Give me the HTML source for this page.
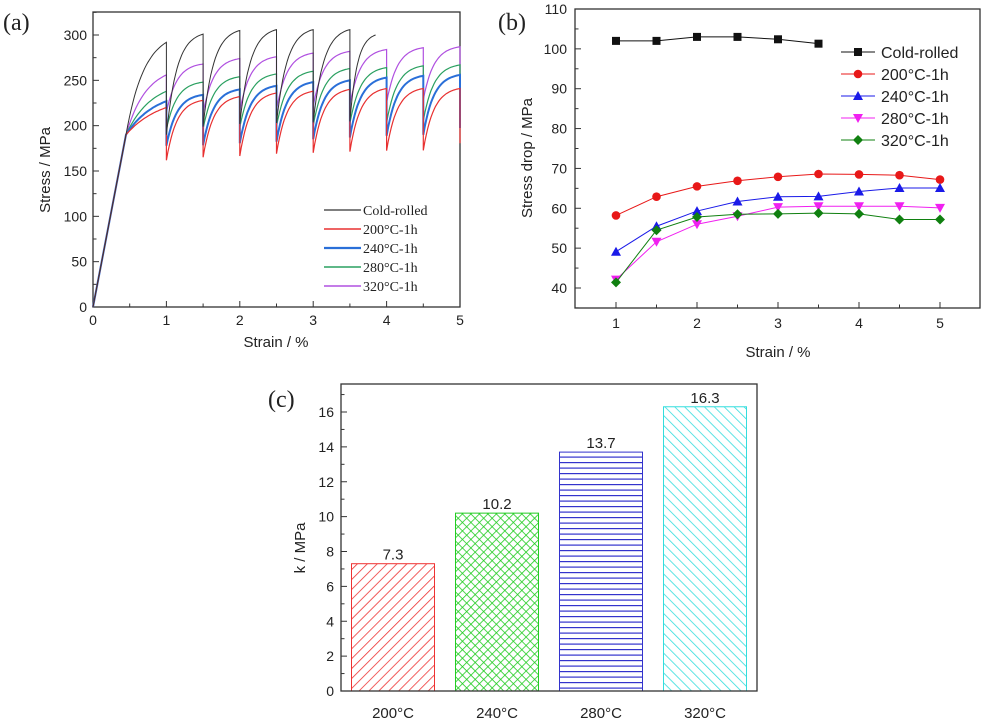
<!DOCTYPE html>
<html><head><meta charset="utf-8"><style>
body{margin:0;background:#fff}
svg{display:block}
text{font-family:"Liberation Sans",Arial,sans-serif;fill:#222}
.serif{font-family:"Liberation Serif",serif}
</style></head><body>
<svg id="fig" width="988" height="722" viewBox="0 0 988 722" xmlns="http://www.w3.org/2000/svg">
<defs>
<pattern id="pRed" patternUnits="userSpaceOnUse" width="7" height="7" patternTransform="rotate(45)"><line x1="0" y1="0" x2="0" y2="7" stroke="#e33" stroke-width="1.6"/></pattern>
<pattern id="pGreen" patternUnits="userSpaceOnUse" width="6" height="6" patternTransform="rotate(45)"><line x1="0" y1="0" x2="0" y2="6" stroke="#2c2" stroke-width="1.6"/><line x1="0" y1="0" x2="6" y2="0" stroke="#2c2" stroke-width="1.6"/></pattern>
<pattern id="pBlue" patternUnits="userSpaceOnUse" width="8" height="5.5"><line x1="0" y1="0.5" x2="8" y2="0.5" stroke="#33c" stroke-width="1.4"/></pattern>
<pattern id="pCyan" patternUnits="userSpaceOnUse" width="7" height="7" patternTransform="rotate(-45)"><line x1="0" y1="0" x2="0" y2="7" stroke="#3dd" stroke-width="1.6"/></pattern>
</defs>
<g id="ga"></g><g id="gb"></g><g id="gc"></g>
</svg>
<script>
// ---------- data ----------
const seriesA = ["Cold-rolled","200°C-1h","240°C-1h","280°C-1h","320°C-1h"];
const peakCold = [292,301,305,306,306,306,300];
const peak200 = [220,228,232,236,238,240,241,241,241];
const peak240 = [227,234,240,244,248,250,253,255,256];
const peak280 = [238,248,254,257,260,263,264,266,267];
const peak320 = [256,268,274,276,280,282,284,286,287];
const strainB = [1,1.5,2,2.5,3,3.5,4,4.5,5];
const dropCold = [102,102,103,103,102.4,101.3];
const drop200 = [58.2,62.9,65.5,66.9,67.9,68.6,68.5,68.3,67.2];
const drop240 = [49.1,55.5,59.3,61.7,62.9,63.0,64.2,65.1,65.1];
const drop280 = [42.1,51.6,56,58,60.3,60.5,60.5,60.5,60.1];
const drop320 = [41.4,54.5,57.8,58.5,58.6,58.8,58.6,57.2,57.2];
const catsC = ["200°C","240°C","280°C","320°C"];
const valsC = [7.3,10.2,13.7,16.3];
const labelsC = ["7.3","10.2","13.7","16.3"];
const ticksA_x=[0,1,2,3,4,5], ticksA_y=[0,50,100,150,200,250,300];
const ticksB_x=[1,2,3,4,5], ticksB_y=[40,50,60,70,80,90,100,110];
const ticksC_y=[0,2,4,6,8,10,12,14,16];

const NS="http://www.w3.org/2000/svg";
function mk(p,tag,attrs,txt){const e=document.createElementNS(NS,tag);for(const k in attrs)e.setAttribute(k,attrs[k]);if(txt!==undefined)e.textContent=txt;p.appendChild(e);return e;}

// ---------- panel a ----------
const ga=document.getElementById('ga');
const A={l:93,r:460,t:12,b:307};
const ax=v=>A.l+v/5*(A.r-A.l), ay=v=>A.b-v/300*(A.b-35);
let t=mk(ga,'text',{x:3,y:30,'font-size':24,class:'serif'},'(a)');

let r=mk(ga,'rect',{x:A.l,y:A.t,width:A.r-A.l,height:A.b-A.t,fill:'none',stroke:'#333','stroke-width':1.3});

for(let v=0;v<=5;v+=0.5){const x=ax(v);mk(ga,'line',{x1:x,y1:A.b,x2:x,y2:A.b-(v%1===0?6:3.5),stroke:'#333'});}
ticksA_x.forEach(v=>{const e=mk(ga,'text',{x:ax(v),y:A.b+18,'font-size':14,'text-anchor':'middle'},v);});
for(let v=0;v<=325;v+=25){const y=ay(v);mk(ga,'line',{x1:A.l,y1:y,x2:A.l+(v%50===0?6:3.5),y2:y,stroke:'#333'});}
ticksA_y.forEach(v=>{const e=mk(ga,'text',{x:A.l-6,y:ay(v)+5,'font-size':14,'text-anchor':'end'},v);});
t=mk(ga,'text',{x:276,y:347,'font-size':15,'text-anchor':'middle'},'Strain / %');
t=mk(ga,'text',{x:0,y:0,'font-size':15,'text-anchor':'middle',transform:'translate(50,170) rotate(-90)'},'Stress / MPa');

const colsA=['#333','#e83030','#2a6fd8','#2aa060','#b050e0'];
const widthsA=[1,1.2,2,1.2,1.2];
const peaksA=[peakCold,peak200,peak240,peak280,peak320];
const dropsA=[dropCold,drop200,drop240,drop280,drop320];
const firstK=[2.2,1.2,1.4,1.6,2];
function rise(x0,x1,y0,y1,k,pts){for(let i=0;i<=24;i++){const s=i/24;const f=(1-Math.exp(-k*s))/(1-Math.exp(-k));pts.push([ax(x0+(x1-x0)*s),ay(y0+(y1-y0)*f)]);}}
[4,3,2,1,0].forEach(si=>{
  const pk=peaksA[si], dr=dropsA[si];const pts=[[ax(0),ay(0)],[ax(0.45),ay(190)]];
  rise(0.45,1,190,pk[0],firstK[si],pts);
  for(let c=1;c<pk.length;c++){
    const xs=0.5+0.5*c; const mn=pk[c-1]-dr[c-1];
    pts.push([ax(xs),ay(mn)]);
    const xe=(si===0&&c===pk.length-1)?3.85:xs+0.5;
    rise(xs,xe,mn,pk[c],3.5,pts);
  }
  const last=pk.length-1;
  if(si>0 && dr[last]!==undefined) pts.push([ax(5),ay(pk[last]-dr[last]*0.9)]);
  const p=mk(ga,'path',{d:'M'+pts.map(q=>q[0].toFixed(1)+','+q[1].toFixed(1)).join('L'),fill:'none',stroke:colsA[si],'stroke-width':widthsA[si]});
  
});
seriesA.forEach((s,i)=>{const y=210+i*19;
  const l=mk(ga,'line',{x1:324,y1:y,x2:361,y2:y,stroke:colsA[i],'stroke-width':widthsA[i]+0.3});
  const e=mk(ga,'text',{x:363,y:y+5,'font-size':14,class:'serif'},s);});

// ---------- panel b ----------
const gb=document.getElementById('gb');
const B={l:575,r:980,t:9,b:308};
const bx=v=>616+(v-1)/4*(940-616), by=v=>288-(v-40)/70*(288-9);
t=mk(gb,'text',{x:498,y:30,'font-size':24,class:'serif'},'(b)');
r=mk(gb,'rect',{x:B.l,y:B.t,width:B.r-B.l,height:B.b-B.t,fill:'none',stroke:'#333','stroke-width':1.3});
for(let v=1;v<=5;v+=0.5){const x=bx(v);mk(gb,'line',{x1:x,y1:B.b,x2:x,y2:B.b-(v%1===0?6:3.5),stroke:'#333'});}
ticksB_x.forEach(v=>{const e=mk(gb,'text',{x:bx(v),y:B.b+20,'font-size':14,'text-anchor':'middle'},v);});
for(let v=35;v<=110;v+=5){const y=by(v);if(y>B.b)continue;mk(gb,'line',{x1:B.l,y1:y,x2:B.l+(v%10===0?6:3.5),y2:y,stroke:'#333'});}
ticksB_y.forEach(v=>{const e=mk(gb,'text',{x:B.l-8,y:by(v)+5,'font-size':14,'text-anchor':'end'},v);});
t=mk(gb,'text',{x:778,y:357,'font-size':15,'text-anchor':'middle'},'Strain / %');
t=mk(gb,'text',{x:0,y:0,'font-size':15,'text-anchor':'middle',transform:'translate(532,158) rotate(-90)'},'Stress drop / MPa');
const colsB=['#111','#e81818','#1a1ae8','#f020f0','#108010'];
const dropsB=[dropCold,drop200,drop240,drop280,drop320];
function marker(g,kind,x,y,c){
  if(kind===0) return mk(g,'rect',{x:x-4,y:y-4,width:8,height:8,fill:c});
  if(kind===1) return mk(g,'circle',{cx:x,cy:y,r:4.3,fill:c});
  if(kind===2) return mk(g,'path',{d:`M${x},${y-5}L${x+5},${y+4}L${x-5},${y+4}Z`,fill:c});
  if(kind===3) return mk(g,'path',{d:`M${x},${y+5}L${x+5},${y-4}L${x-5},${y-4}Z`,fill:c});
  return mk(g,'path',{d:`M${x},${y-5}L${x+5},${y}L${x},${y+5}L${x-5},${y}Z`,fill:c});
}
dropsB.forEach((arr,si)=>{
  const pts=arr.map((v,i)=>[bx(strainB[i]),by(v)]);
  const p=mk(gb,'polyline',{points:pts.map(q=>q.join(',')).join(' '),fill:'none',stroke:colsB[si],'stroke-width':1});
  
  pts.forEach(q=>{const m=marker(gb,si,q[0],q[1],colsB[si]);});
});
seriesA.forEach((s,i)=>{const y=52+i*22;
  const l=mk(gb,'line',{x1:841,y1:y,x2:875,y2:y,stroke:colsB[i]});
  const m=marker(gb,i,858,y,colsB[i]);
  const e=mk(gb,'text',{x:881,y:y+6,'font-size':16},s);});

// ---------- panel c ----------
const gc=document.getElementById('gc');
const C={l:341,r:757,t:384,b:691};
const cy=v=>C.b-v/16*(C.b-412), cx=i=>C.l+(i+0.5)*104;
t=mk(gc,'text',{x:268,y:407,'font-size':24,class:'serif'},'(c)');
const fills=['url(#pRed)','url(#pGreen)','url(#pBlue)','url(#pCyan)'], strokesC=['#e33','#2c2','#33c','#3dd'];
valsC.forEach((v,i)=>{
  const b=mk(gc,'rect',{x:cx(i)-41.5,y:cy(v),width:83,height:C.b-cy(v),fill:fills[i],stroke:strokesC[i],'stroke-width':1});
  
  const e=mk(gc,'text',{x:cx(i),y:cy(v)-4,'font-size':15,'text-anchor':'middle'},labelsC[i]);
  const c=mk(gc,'text',{x:cx(i),y:718,'font-size':15,'text-anchor':'middle'},catsC[i]);
});
r=mk(gc,'rect',{x:C.l,y:C.t,width:C.r-C.l,height:C.b-C.t,fill:'none',stroke:'#333','stroke-width':1.3});
for(let v=0;v<=17;v+=1){const y=cy(v);mk(gc,'line',{x1:C.l,y1:y,x2:C.l+(v%2===0?6:3.5),y2:y,stroke:'#333'});}
ticksC_y.forEach(v=>{const e=mk(gc,'text',{x:C.l-7,y:cy(v)+5,'font-size':14,'text-anchor':'end'},v);});
t=mk(gc,'text',{x:0,y:0,'font-size':15,'text-anchor':'middle',transform:'translate(305,548) rotate(-90)'},'k / MPa');
</script>
</body></html>
